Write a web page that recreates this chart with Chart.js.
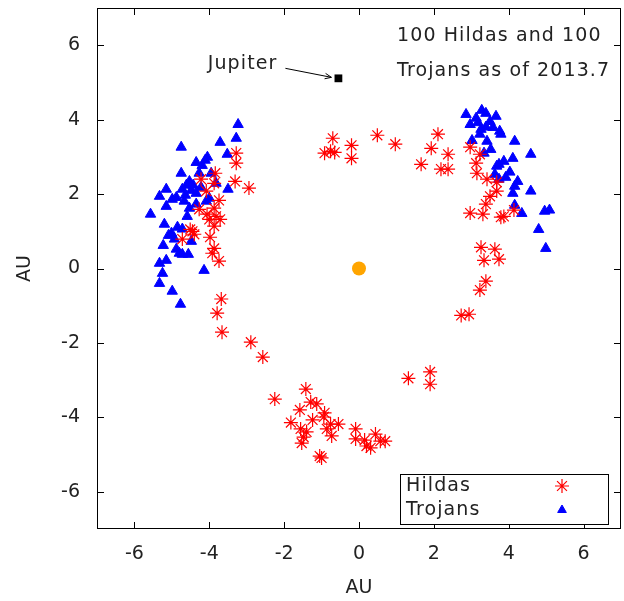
<!DOCTYPE html>
<html>
<head>
<meta charset="utf-8">
<title>Hildas and Trojans</title>
<script src="https://cdn.jsdelivr.net/npm/chart.js@4.4.0/dist/chart.umd.min.js"></script>
<style>
  html, body { margin: 0; padding: 0; background: #fff; }
</style>
</head>
<body>
<canvas id="orbitChart" width="624" height="601"></canvas>
<script>
// positions in AU
var hildaX = [-3.28, -3.28, -2.94, -3.31, -3.84, -4.22, -3.87, -4.08, -3.74, -3.87, -4.27, -4.06, -3.82, -4.00, -3.71, -3.87, -4.51, -4.40, -4.45, -4.72, -3.98, -3.87, -3.92, -3.74, -3.68, -3.79, -3.66,
    -2.89, -2.57, -2.25,
    -1.42, -1.29, -1.13, -1.58, -0.92, -1.82, -1.24, -0.94, -0.76, -0.55, -1.56, -1.40, -1.48, -1.53, -0.86, -0.73, -0.09, -0.09, 0.15, 0.20, 0.31, 0.44, 0.57, 0.70, -1.05, -1.00,
    1.32, 1.90, 1.90,
    -0.70, -0.92, -0.76, -0.65, -0.20, -0.20, 0.49, 0.97, 1.66, 1.93, 2.11,
    2.38, 2.19, 2.38, 2.97, 3.23, 3.13, 3.15, 3.42, 3.68, 3.68, 3.50, 3.39, 2.97, 3.31, 3.79, 3.87, 4.14, 3.26, 3.63, 3.34, 3.74, 3.39, 3.23, 2.73, 2.94];
var hildaY = [3.10, 2.83, 2.16, 2.34, 2.56, 2.40, 2.29, 2.08, 1.83, 1.62, 1.59, 1.46, 1.40, 1.32, 1.32, 1.14, 1.05, 0.92, 1.00, 0.79, 0.84, 0.54, 0.41, 0.20, -0.82, -1.20, -1.71,
    -1.98, -2.38, -3.51,
    -3.24, -3.59, -3.64, -3.80, -3.88, -4.14, -4.07, -3.99, -4.18, -4.18, -4.31, -4.39, -4.53, -4.69, -4.31, -4.50, -4.31, -4.58, -4.61, -4.77, -4.82, -4.45, -4.64, -4.64, -5.04, -5.09,
    -2.95, -2.78, -3.11,
    3.50, 3.10, 3.15, 3.12, 3.31, 2.96, 3.58, 3.34, 2.80, 3.23, 3.61,
    3.07, 2.67, 2.67, 3.26, 3.07, 2.83, 2.56, 2.40, 2.32, 2.08, 1.94, 1.73, 1.49, 1.46, 1.38, 1.40, 1.57, 0.57, 0.52, 0.22, 0.25, -0.34, -0.58, -1.26, -1.23];

var trojanX = [-3.23, -3.28, -3.71, -4.75, -3.52, -4.05, -4.11, -4.35, -4.19, -4.75, -4.27, -3.95, -4.53, -4.61, -3.82, -5.15, -4.72, -4.48, -4.35, -3.50, -5.33, -4.99, -4.88, -4.67, -4.00, -4.08, -5.15, -4.53, -4.35, -5.57, -5.20, -4.85, -4.72, -5.01, -5.09, -4.93, -4.48, -5.23, -4.88, -4.80, -4.72, -4.56, -5.15, -5.33, -4.14, -5.25, -5.33, -4.99, -4.77, -4.64, -4.43, -4.22, -4.59,
    2.86, 3.28, 3.39, 3.13, 3.66, 2.97, 3.50, 3.39, 3.26, 3.76, 3.79, 3.23, 3.02, 3.42, 4.16, 3.52, 3.34, 4.11, 4.59, 3.74, 3.68, 4.03, 3.63, 3.74, 4.24, 4.16, 4.59, 4.11, 4.16, 4.35, 4.96, 5.09, 4.80, 4.99, 3.18, 3.58, 3.87, 3.92];
var trojanY = [3.87, 3.50, 3.39, 3.26, 3.07, 2.99, 2.91, 2.85, 2.77, 2.56, 2.56, 2.56, 2.34, 2.24, 2.29, 2.13, 2.13, 2.10, 2.02, 2.13, 1.94, 1.86, 1.91, 1.81, 1.89, 1.81, 1.67, 1.62, 1.73, 1.46, 1.19, 1.11, 1.06, 0.95, 0.89, 0.79, 0.73, 0.62, 0.52, 0.41, 0.38, 0.38, 0.22, 0.14, -0.05, -0.13, -0.40, -0.61, -0.96, 1.97, 2.24, 2.18, 1.40,
    4.14, 4.25, 4.17, 4.04, 4.09, 3.87, 3.95, 3.80, 3.74, 3.69, 3.61, 3.61, 3.44, 3.42, 3.42, 3.20, 3.10, 2.96, 3.07, 2.80, 2.75, 2.59, 2.53, 2.40, 2.34, 2.21, 2.08, 2.02, 1.70, 1.48, 1.54, 1.57, 1.05, 0.54, 3.92, 3.79, 2.88, 2.45];

var jupiterX = [-0.55];
var jupiterY = [5.11];
var sunX = [0];
var sunY = [0];

var xTicks = [-6, -4, -2, 0, 2, 4, 6];
var yTicks = [-6, -4, -2, 0, 2, 4, 6];
var seriesNames = ['Hildas', 'Trojans'];
var noteLines = ['100 Hildas and 100', 'Trojans as of 2013.7'];
var jupiterLabel = 'Jupiter';
var axisTitle = 'AU';

var textFont = '"DejaVu Sans", "Liberation Sans", sans-serif';
var textColor = '#222';
var hildaColor = '#ff0000';
var trojanColor = '#0000ff';

function toPoints(xs, ys) {
    var pts = [];
    for (var i = 0; i < xs.length; i++) pts.push({ x: xs[i], y: ys[i] });
    return pts;
}

function noEdgePadding(axis) {
    axis.paddingTop = 0;
    axis.paddingBottom = 0;
    axis.paddingLeft = 0;
    axis.paddingRight = 0;
}

Chart.defaults.font.family = textFont;
Chart.defaults.font.size = 18;
Chart.defaults.color = textColor;

// box, inward ticks, notes, arrow and legend, drawn on top like gnuplot does
var framePlugin = {
    id: 'frameAndNotes',
    afterDraw: function (chart) {
        var ctx = chart.ctx;
        var a = chart.chartArea;
        var xs = chart.scales.x;
        var ys = chart.scales.y;

        ctx.save();
        ctx.strokeStyle = '#000';
        ctx.lineWidth = 1;
        ctx.strokeRect(Math.round(a.left) + 0.5, Math.round(a.top) + 0.5,
            Math.round(a.right - a.left) - 1, Math.round(a.bottom - a.top) - 1);

        ctx.beginPath();
        xTicks.forEach(function (v) {
            var px = Math.round(xs.getPixelForValue(v)) + 0.5;
            ctx.moveTo(px, a.bottom); ctx.lineTo(px, a.bottom - 7);
            ctx.moveTo(px, a.top); ctx.lineTo(px, a.top + 7);
        });
        yTicks.forEach(function (v) {
            var py = Math.round(ys.getPixelForValue(v)) + 0.5;
            ctx.moveTo(a.left, py); ctx.lineTo(a.left + 7, py);
            ctx.moveTo(a.right, py); ctx.lineTo(a.right - 7, py);
        });
        ctx.stroke();

        // note in the upper right
        ctx.fillStyle = textColor;
        ctx.font = '19px ' + textFont;
        ctx.letterSpacing = '1.1px';
        ctx.textAlign = 'left';
        ctx.textBaseline = 'middle';
        ctx.fillText(noteLines[0], a.left + 300, a.top + 28);
        ctx.fillText(noteLines[1], a.left + 300, a.top + 63);

        // Jupiter label with arrow
        var jx = xs.getPixelForValue(jupiterX[0]);
        var jy = ys.getPixelForValue(jupiterY[0]);
        ctx.textAlign = 'right';
        ctx.fillText(jupiterLabel, jx - 61, jy - 14);
        var x0 = jx - 53, y0 = jy - 10, x1 = jx - 7, y1 = jy - 1;
        var ang = Math.atan2(y1 - y0, x1 - x0);
        ctx.beginPath();
        ctx.moveTo(x0, y0); ctx.lineTo(x1, y1);
        ctx.moveTo(x1 - 7 * Math.cos(ang - 0.4), y1 - 7 * Math.sin(ang - 0.4));
        ctx.lineTo(x1, y1);
        ctx.lineTo(x1 - 7 * Math.cos(ang + 0.4), y1 - 7 * Math.sin(ang + 0.4));
        ctx.stroke();

        // legend box
        var lx0 = a.left + 303, lx1 = a.right - 13;
        var ly0 = a.bottom - 55, ly1 = a.bottom - 5;
        ctx.fillStyle = '#fff';
        ctx.fillRect(lx0, ly0, lx1 - lx0, ly1 - ly0);
        ctx.strokeRect(Math.round(lx0) + 0.5, Math.round(ly0) + 0.5, Math.round(lx1 - lx0), Math.round(ly1 - ly0));
        ctx.fillStyle = textColor;
        ctx.textAlign = 'left';
        ctx.font = '19px ' + textFont;
        ctx.fillText(seriesNames[0], lx0 + 6, ly0 + 12);
        ctx.fillText(seriesNames[1], lx0 + 6, ly0 + 36);
        ctx.letterSpacing = '0px';

        var mx = lx1 - 46;
        ctx.strokeStyle = hildaColor;
        ctx.lineWidth = 1.2;
        Chart.helpers.drawPoint(ctx, { pointStyle: 'star', radius: 7, rotation: 0, borderWidth: 1.2 }, mx, ly0 + 12);
        ctx.fillStyle = trojanColor;
        ctx.strokeStyle = trojanColor;
        ctx.lineWidth = 1;
        Chart.helpers.drawPoint(ctx, { pointStyle: 'triangle', radius: 5, rotation: 0, borderWidth: 1 }, mx, ly0 + 36);
        ctx.restore();
    }
};

var ctx = document.getElementById('orbitChart');
var orbitChart = new Chart(ctx, {
    type: 'scatter',
    data: {
        datasets: [
            {
                label: seriesNames[0],
                data: toPoints(hildaX, hildaY),
                pointStyle: 'star',
                pointRadius: 7,
                borderColor: hildaColor,
                backgroundColor: hildaColor,
                borderWidth: 1.2,
                order: 1
            },
            {
                label: seriesNames[1],
                data: toPoints(trojanX, trojanY),
                pointStyle: 'triangle',
                pointRadius: 6,
                borderColor: trojanColor,
                backgroundColor: trojanColor,
                borderWidth: 1,
                order: 2
            },
            {
                label: jupiterLabel,
                data: toPoints(jupiterX, jupiterY),
                pointStyle: 'rect',
                pointRadius: 5.5,
                borderColor: '#000',
                backgroundColor: '#000',
                borderWidth: 0,
                order: 0
            },
            {
                label: 'Sun',
                data: toPoints(sunX, sunY),
                pointStyle: 'circle',
                pointRadius: 7,
                borderColor: '#ffa500',
                backgroundColor: '#ffa500',
                borderWidth: 0,
                order: 0
            }
        ]
    },
    options: {
        responsive: false,
        animation: false,
        events: [],
        layout: { autoPadding: false, padding: { top: 8, right: 3, left: 0, bottom: 0 } },
        plugins: {
            legend: { display: false },
            tooltip: { enabled: false }
        },
        scales: {
            x: {
                type: 'linear',
                position: 'bottom',
                min: -7,
                max: 7,
                afterBuildTicks: function (axis) {
                    axis.ticks = xTicks.map(function (v) { return { value: v }; });
                },
                afterFit: function (axis) { axis.height = 72; noEdgePadding(axis); },
                grid: { display: false, drawTicks: false },
                border: { display: false },
                ticks: { padding: 14, color: textColor, font: { size: 19 } },
                title: { display: true, text: axisTitle, color: textColor, font: { size: 19 }, padding: { top: 0, bottom: 2 } }
            },
            y: {
                type: 'linear',
                position: 'left',
                min: -7,
                max: 7,
                afterBuildTicks: function (axis) {
                    axis.ticks = yTicks.map(function (v) { return { value: v }; });
                },
                afterFit: function (axis) { axis.width = 97; noEdgePadding(axis); },
                grid: { display: false, drawTicks: false },
                border: { display: false },
                ticks: { padding: 17, color: textColor, font: { size: 19 } },
                title: { display: true, text: axisTitle, color: textColor, font: { size: 19 }, padding: { top: 14, bottom: 0 } }
            }
        }
    },
    plugins: [framePlugin]
});
</script>
</body>
</html>
